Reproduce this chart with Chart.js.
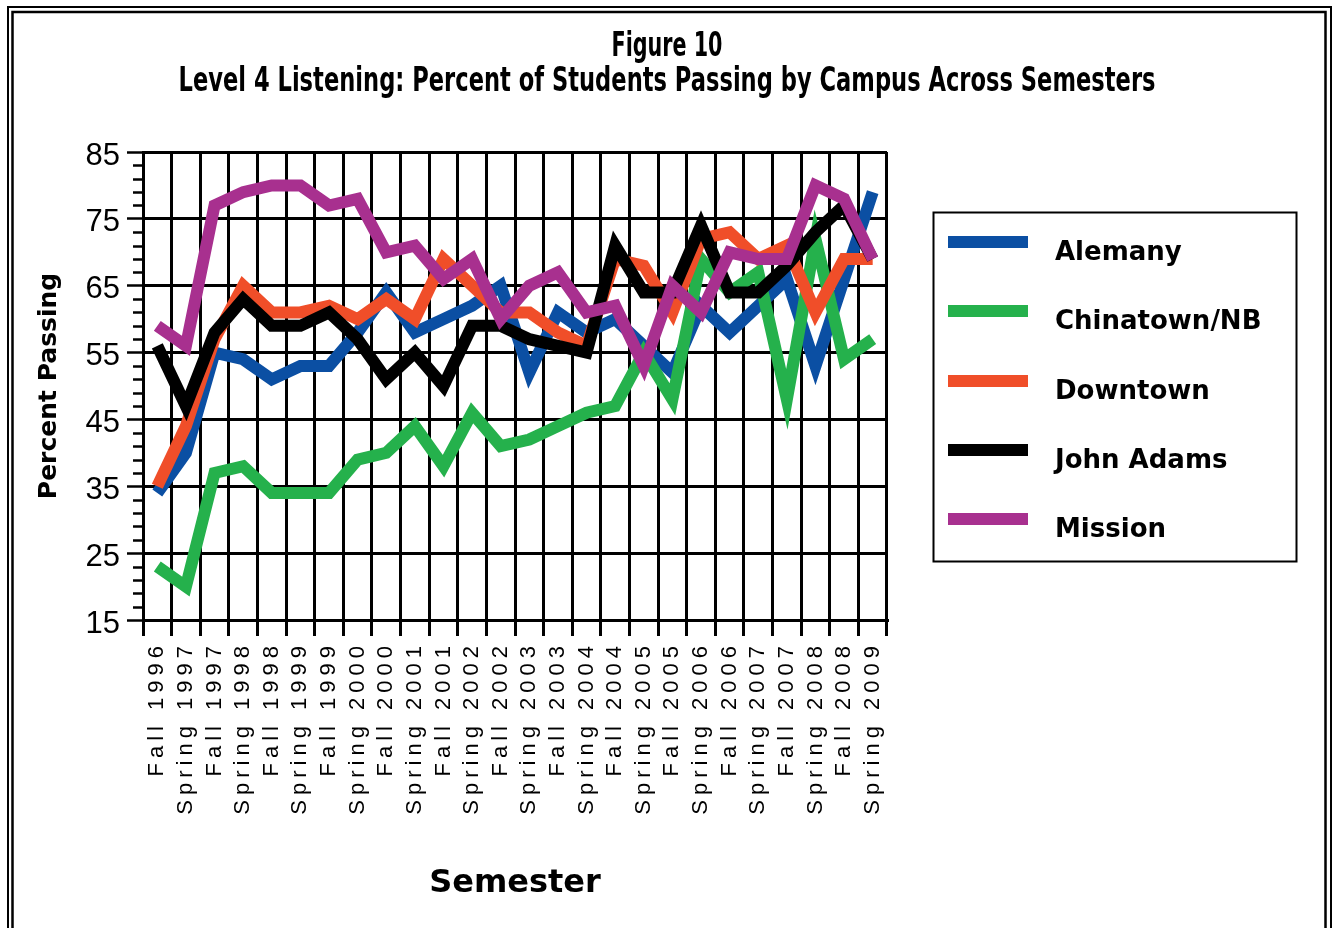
<!DOCTYPE html>
<html>
<head>
<meta charset="utf-8">
<title>Level 4 Listening: Percent of Students Passing by Campus Across Semesters</title>
<script src="https://cdn.jsdelivr.net/npm/chart.js@4.4.1/dist/chart.umd.min.js"></script>
<style>
  html, body { margin: 0; padding: 0; background: #fff; }
  #wrap { position: relative; width: 1337px; height: 928px; }
  canvas { display: block; }
</style>
</head>
<body>
<div id="wrap"><canvas id="chart" width="1337" height="928"></canvas></div>
<script>
// Semesters on the horizontal axis
const semesters = [
  'Fall 1996', 'Spring 1997', 'Fall 1997', 'Spring 1998', 'Fall 1998', 'Spring 1999',
  'Fall 1999', 'Spring 2000', 'Fall 2000', 'Spring 2001', 'Fall 2001', 'Spring 2002',
  'Fall 2002', 'Spring 2003', 'Fall 2003', 'Spring 2004', 'Fall 2004', 'Spring 2005',
  'Fall 2005', 'Spring 2006', 'Fall 2006', 'Spring 2007', 'Fall 2007', 'Spring 2008',
  'Fall 2008', 'Spring 2009'
];

// Percent of students passing, per campus
const alemany   = [34, 40, 55, 54, 51, 53, 53, 58, 64, 58, 60, 62, 65, 52, 61, 58, 60, 56, 52, 62, 58, 62, 66, 53, 66, 79];
const chinatown = [23, 20, 37, 38, 34, 34, 34, 39, 40, 44, 38, 46, 41, 42, 44, 46, 47, 55, 48, 69, 64, 67, 48, 72, 54, 57];
const downtown  = [35, 44, 57, 65, 61, 61, 62, 60, 63, 60, 69, 65, 61, 61, 58, 56, 69, 68, 61, 72, 73, 69, 71, 61, 69, 69];
const johnAdams = [56, 47, 58, 63, 59, 59, 61, 57, 51, 55, 50, 59, 59, 57, 56, 55, 71, 64, 64, 74, 64, 64, 68, 73, 77, 69];
const mission   = [59, 56, 77, 79, 80, 80, 77, 78, 70, 71, 66, 69, 60, 65, 67, 61, 62, 53, 65, 61, 70, 69, 69, 80, 78, 69];

const campusNames  = ['Alemany', 'Chinatown/NB', 'Downtown', 'John Adams', 'Mission'];
const campusColors = ['#0b4fa3', '#25b14c', '#f04e29', '#000000', '#a8308f'];

// Percent axis range and tick spacing
const yMin = 15, yMax = 85, yStep = 10, yMinorStep = 2;

const chartTitle = 'Figure 10';
const chartSubtitle = 'Level 4 Listening: Percent of Students Passing by Campus Across Semesters';

// Category scale whose tick labels are drawn with extra letter spacing
class SpacedCategoryScale extends Chart.CategoryScale {
  drawLabels(chartArea) {
    const ctx = this.ctx;
    ctx.save();
    ctx.letterSpacing = '5px';
    super.drawLabels(chartArea);
    ctx.restore();
  }
}
SpacedCategoryScale.id = 'spacedCategory';
SpacedCategoryScale.defaults = Chart.CategoryScale.defaults;
Chart.register(SpacedCategoryScale);

function fittedText(ctx, text, cx, baseline, font, width) {
  ctx.save();
  ctx.font = font;
  const w = ctx.measureText(text).width;
  ctx.translate(cx, baseline);
  ctx.scale(width / w, 1);
  ctx.textAlign = 'center';
  ctx.textBaseline = 'alphabetic';
  ctx.fillStyle = '#000';
  ctx.fillText(text, 0, 0);
  ctx.restore();
}

// Page frame, titles, minor ticks and the boxed legend
const pageDecor = {
  id: 'pageDecor',
  beforeDraw(chart) {
    const ctx = chart.ctx;
    ctx.save();
    ctx.fillStyle = '#fff';
    ctx.fillRect(0, 0, chart.width, chart.height);
    ctx.strokeStyle = '#000';
    ctx.lineWidth = 2;
    ctx.strokeRect(8, 7, 1323, 1000);
    ctx.lineWidth = 2.5;
    ctx.strokeRect(12.5, 12, 1313, 1000);
    ctx.restore();

    const titleFont = "bold 33px 'Liberation Sans Narrow', 'DejaVu Sans Condensed', 'Liberation Sans', sans-serif";
    fittedText(ctx, chartTitle, 667, 56, titleFont, 111);
    fittedText(ctx, chartSubtitle, 667, 91, titleFont, 977);
  },
  afterDraw(chart) {
    const ctx = chart.ctx;
    const y = chart.scales.y;
    ctx.save();
    // minor tick marks on the percent axis
    ctx.strokeStyle = '#000';
    ctx.lineWidth = 2.5;
    for (let v = yMin + yMinorStep; v < yMax; v += yMinorStep) {
      if ((v - yMin) % yStep === 0) continue;
      const py = Math.round(y.getPixelForValue(v)) + 0.5;
      ctx.beginPath();
      ctx.moveTo(y.right - 10, py);
      ctx.lineTo(y.right, py);
      ctx.stroke();
    }

    // legend
    ctx.lineWidth = 2;
    ctx.strokeRect(933.5, 212.5, 363, 349);
    const rows = [242, 311, 381, 450, 519];
    ctx.font = "bold 26px 'DejaVu Sans', sans-serif";
    ctx.textAlign = 'left';
    ctx.textBaseline = 'alphabetic';
    chart.data.datasets.forEach((ds, i) => {
      const cy = rows[i];
      ctx.fillStyle = ds.borderColor;
      ctx.fillRect(948, cy - 6, 80, 12);
      ctx.fillStyle = '#000';
      ctx.fillText(ds.label, 1055, cy + 18);
    });
    ctx.restore();
  }
};

const seriesValues = [alemany, chinatown, downtown, johnAdams, mission];

new Chart(document.getElementById('chart'), {
  type: 'line',
  data: {
    labels: semesters,
    datasets: seriesValues.map((vals, i) => ({
      label: campusNames[i],
      data: vals,
      borderColor: campusColors[i],
      backgroundColor: campusColors[i],
      borderWidth: 12,
      pointRadius: 0,
      pointHoverRadius: 0,
      tension: 0,
      fill: false,
      borderJoinStyle: 'miter',
      borderCapStyle: 'butt',
      order: seriesValues.length - i
    }))
  },
  options: {
    responsive: false,
    animation: false,
    devicePixelRatio: 1,
    layout: { padding: { top: 152, right: 450, left: 0, bottom: 0 } },
    plugins: {
      legend: { display: false },
      title: { display: false },
      tooltip: { enabled: false }
    },
    scales: {
      x: {
        type: 'spacedCategory',
        offset: true,
        afterFit: (s) => { s.height = 308; },
        grid: { offset: true, color: '#000', lineWidth: 3, tickLength: 16, tickColor: '#000', tickWidth: 3 },
        border: { color: '#000', width: 3 },
        ticks: {
          autoSkip: false,
          minRotation: 90,
          maxRotation: 90,
          padding: 5,
          color: '#000',
          font: { family: "'Liberation Sans', Arial, sans-serif", size: 22 }
        },
        title: {
          display: true,
          text: 'Semester',
          color: '#000',
          font: { family: "'DejaVu Sans', sans-serif", size: 32, weight: 'bold' },
          padding: { top: 0, bottom: 25 }
        }
      },
      y: {
        min: yMin,
        max: yMax,
        afterFit: (s) => { s.width = 143; },
        grid: { color: '#000', lineWidth: 3, tickLength: 16, tickColor: '#000', tickWidth: 2.5 },
        border: { color: '#000', width: 3 },
        ticks: {
          stepSize: yStep,
          padding: 7,
          labelOffset: 4,
          color: '#000',
          font: { family: "'Liberation Sans', Arial, sans-serif", size: 31 }
        },
        title: {
          display: true,
          text: 'Percent Passing',
          color: '#000',
          font: { family: "'DejaVu Sans', sans-serif", size: 25, weight: 'bold' },
          padding: { top: 34, bottom: 0 }
        }
      }
    }
  },
  plugins: [pageDecor]
});
</script>
</body>
</html>
